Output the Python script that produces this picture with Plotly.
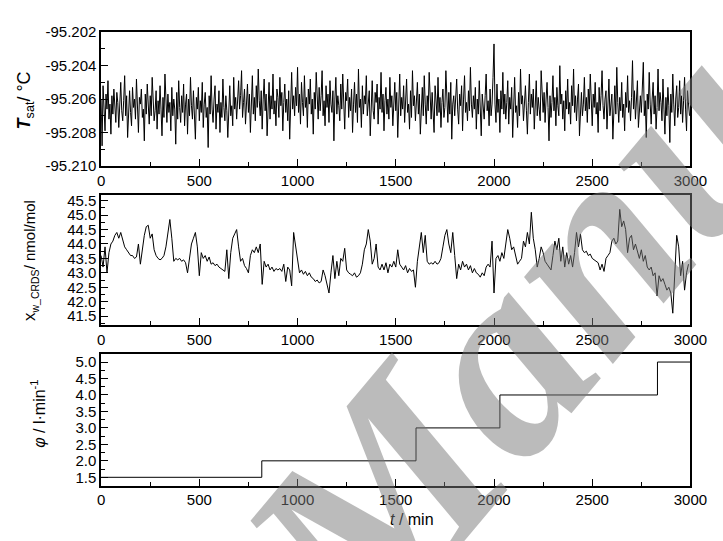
import plotly.graph_objects as go

# ---------------- data ----------------
t_sat_time = list(range(0, 3000, 5))
T_sat = [
    -95.2060, -95.2088, -95.2052, -95.2068, -95.2079, -95.2057, -95.2066, -95.2049, -95.2072, -95.2063,
    -95.2081, -95.2058, -95.2069, -95.2054, -95.2066, -95.2074, -95.2056, -95.2062, -95.2077, -95.2059,
    -95.2050, -95.2067, -95.2073, -95.2061, -95.2046, -95.2070, -95.2058, -95.2083, -95.2064, -95.2055,
    -95.2068, -95.2076, -95.2053, -95.2065, -95.2060, -95.2072, -95.2048, -95.2067, -95.2080, -95.2059,
    -95.2063, -95.2054, -95.2071, -95.2066, -95.2085, -95.2057, -95.2069, -95.2051, -95.2064, -95.2075,
    -95.2058, -95.2070, -95.2047, -95.2062, -95.2073, -95.2067, -95.2055, -95.2078, -95.2061, -95.2069,
    -95.2052, -95.2066, -95.2082, -95.2059, -95.2071, -95.2045, -95.2064, -95.2074, -95.2057, -95.2068,
    -95.2062, -95.2079, -95.2053, -95.2070, -95.2060, -95.2066, -95.2087, -95.2056, -95.2072, -95.2049,
    -95.2065, -95.2074, -95.2058, -95.2068, -95.2051, -95.2076, -95.2063, -95.2057, -95.2081, -95.2060,
    -95.2070, -95.2047, -95.2064, -95.2072, -95.2055, -95.2067, -95.2084, -95.2059, -95.2066, -95.2053,
    -95.2073, -95.2061, -95.2068, -95.2050, -95.2077, -95.2063, -95.2056, -95.2071, -95.2065, -95.2089,
    -95.2058, -95.2069, -95.2046, -95.2066, -95.2074, -95.2060, -95.2052, -95.2078, -95.2063, -95.2068,
    -95.2055, -95.2080, -95.2062, -95.2071, -95.2048, -95.2065, -95.2073, -95.2058, -95.2067, -95.2083,
    -95.2061, -95.2052, -95.2070, -95.2064, -95.2076, -95.2047, -95.2066, -95.2059, -95.2072, -95.2056,
    -95.2049, -95.2066, -95.2058, -95.2043, -95.2071, -95.2062, -95.2054, -95.2075, -95.2060, -95.2051,
    -95.2068, -95.2057, -95.2080, -95.2063, -95.2046, -95.2069, -95.2059, -95.2073, -95.2052, -95.2065,
    -95.2042, -95.2061, -95.2070, -95.2055, -95.2078, -95.2060, -95.2048, -95.2067, -95.2057, -95.2082,
    -95.2063, -95.2050, -95.2072, -95.2058, -95.2066, -95.2045, -95.2069, -95.2061, -95.2076, -95.2054,
    -95.2059, -95.2071, -95.2047, -95.2064, -95.2056, -95.2079, -95.2062, -95.2051, -95.2068, -95.2060,
    -95.2073, -95.2055, -95.2084, -95.2061, -95.2044, -95.2066, -95.2058, -95.2070, -95.2053, -95.2064,
    -95.2041, -95.2068, -95.2057, -95.2075, -95.2050, -95.2062, -95.2070, -95.2046, -95.2065, -95.2059,
    -95.2077, -95.2054, -95.2063, -95.2048, -95.2069, -95.2060, -95.2081, -95.2056, -95.2066, -95.2044,
    -95.2062, -95.2072, -95.2053, -95.2067, -95.2058, -95.2043, -95.2070, -95.2061, -95.2076, -95.2052,
    -95.2065, -95.2057, -95.2074, -95.2049, -95.2063, -95.2068, -95.2055, -95.2085, -95.2060, -95.2047,
    -95.2069, -95.2058, -95.2064, -95.2073, -95.2051, -95.2066, -95.2045, -95.2062, -95.2078, -95.2056,
    -95.2061, -95.2048, -95.2071, -95.2059, -95.2067, -95.2054, -95.2080, -95.2063, -95.2050, -95.2068,
    -95.2057, -95.2074, -95.2042, -95.2065, -95.2060, -95.2077, -95.2052, -95.2069, -95.2058, -95.2063,
    -95.2046, -95.2070, -95.2061, -95.2055, -95.2082, -95.2064, -95.2049, -95.2067, -95.2072, -95.2056,
    -95.2062, -95.2051, -95.2075, -95.2059, -95.2066, -95.2044, -95.2068, -95.2057, -95.2079, -95.2061,
    -95.2053, -95.2069, -95.2060, -95.2072, -95.2047, -95.2065, -95.2058, -95.2076, -95.2063, -95.2050,
    -95.2067, -95.2056, -95.2083, -95.2061, -95.2045, -95.2070, -95.2059, -95.2066, -95.2052, -95.2074,
    -95.2060, -95.2048, -95.2068, -95.2063, -95.2078, -95.2055, -95.2071, -95.2043, -95.2064, -95.2058,
    -95.2073, -95.2062, -95.2050, -95.2069, -95.2057, -95.2081, -95.2065, -95.2053, -95.2070, -95.2046,
    -95.2063, -95.2075, -95.2058, -95.2067, -95.2044, -95.2061, -95.2072, -95.2056, -95.2066, -95.2080,
    -95.2052, -95.2064, -95.2070, -95.2047, -95.2068, -95.2059, -95.2077, -95.2062, -95.2054, -95.2071,
    -95.2065, -95.2043, -95.2060, -95.2074, -95.2056, -95.2069, -95.2050, -95.2084, -95.2063, -95.2058,
    -95.2070, -95.2061, -95.2048, -95.2066, -95.2075, -95.2057, -95.2064, -95.2052, -95.2079, -95.2060,
    -95.2046, -95.2068, -95.2062, -95.2073, -95.2055, -95.2067, -95.2041, -95.2063, -95.2071, -95.2058,
    -95.2066, -95.2053, -95.2078, -95.2060, -95.2069, -95.2049, -95.2065, -95.2082, -95.2057, -95.2064,
    -95.2072, -95.2058, -95.2045, -95.2067, -95.2061, -95.2076, -95.2054, -95.2070, -95.2063, -95.2047,
    -95.2027, -95.2063, -95.2074, -95.2051, -95.2068, -95.2060, -95.2080, -95.2055, -95.2066, -95.2044,
    -95.2069, -95.2057, -95.2072, -95.2062, -95.2049, -95.2075, -95.2059, -95.2066, -95.2053, -95.2083,
    -95.2061, -95.2047, -95.2068, -95.2064, -95.2077, -95.2056, -95.2070, -95.2042, -95.2063, -95.2058,
    -95.2073, -95.2060, -95.2052, -95.2067, -95.2081, -95.2062, -95.2045, -95.2069, -95.2057, -95.2065,
    -95.2054, -95.2078, -95.2063, -95.2049, -95.2070, -95.2059, -95.2066, -95.2073, -95.2043, -95.2061,
    -95.2068, -95.2056, -95.2074, -95.2060, -95.2050, -95.2065, -95.2085, -95.2058, -95.2071, -95.2062,
    -95.2046, -95.2067, -95.2059, -95.2076, -95.2053, -95.2064, -95.2070, -95.2040, -95.2063, -95.2057,
    -95.2072, -95.2061, -95.2079, -95.2055, -95.2066, -95.2048, -95.2069, -95.2062, -95.2075, -95.2052,
    -95.2064, -95.2042, -95.2068, -95.2058, -95.2073, -95.2060, -95.2051, -95.2082, -95.2065, -95.2056,
    -95.2070, -95.2063, -95.2047, -95.2067, -95.2059, -95.2074, -95.2054, -95.2066, -95.2045, -95.2061,
    -95.2076, -95.2057, -95.2065, -95.2050, -95.2069, -95.2062, -95.2080, -95.2053, -95.2067, -95.2058,
    -95.2043, -95.2064, -95.2072, -95.2060, -95.2055, -95.2078, -95.2061, -95.2048, -95.2070, -95.2063,
    -95.2057, -95.2084, -95.2066, -95.2052, -95.2069, -95.2041, -95.2062, -95.2074, -95.2059, -95.2067,
    -95.2050, -95.2071, -95.2063, -95.2079, -95.2056, -95.2065, -95.2046, -95.2068, -95.2061, -95.2073,
    -95.2059, -95.2037, -95.2066, -95.2055, -95.2072, -95.2062, -95.2049, -95.2077, -95.2064, -95.2058,
    -95.2068, -95.2052, -95.2038, -95.2070, -95.2061, -95.2083, -95.2057, -95.2066, -95.2044, -95.2063,
    -95.2075, -95.2060, -95.2050, -95.2069, -95.2058, -95.2078, -95.2065, -95.2042, -95.2067, -95.2056,
    -95.2062, -95.2073, -95.2048, -95.2066, -95.2081, -95.2059, -95.2070, -95.2053, -95.2064, -95.2086,
    -95.2057, -95.2068, -95.2045, -95.2063, -95.2076, -95.2060, -95.2052, -95.2071, -95.2065, -95.2049,
    -95.2069, -95.2058, -95.2074, -95.2061, -95.2047, -95.2066, -95.2079, -95.2055, -95.2063, -95.2070,
]

xw_time = list(range(0, 3000, 10))
xw_CRDS = [
    43.6, 43.2, 43.9, 43.0, 43.7, 44.0, 44.1, 44.3, 44.4, 44.2,
    44.4, 44.1, 43.9, 43.8, 43.7, 43.6, 43.6, 43.5, 43.55, 44.0,
    43.3, 43.9, 44.3, 44.6, 44.65, 44.2, 44.35, 43.8, 43.6, 43.5,
    43.45, 43.5, 43.6, 43.9, 44.3, 44.85, 44.2, 43.4, 43.5, 43.45,
    43.5, 43.4, 43.45, 43.35, 43.0, 43.6, 44.0, 44.2, 44.4, 43.9,
    42.9, 43.7, 43.5, 43.6, 43.4, 43.55, 43.3, 43.35, 43.25, 43.3,
    43.2, 43.15, 43.1, 43.05, 43.8, 42.8, 43.7, 44.2, 44.35, 44.5,
    43.9, 43.4, 43.5, 43.25, 43.15, 43.0, 43.6, 43.8, 43.7, 43.9,
    43.7, 44.0, 42.6, 43.4, 43.2, 43.3, 43.1, 43.2, 43.05, 43.15,
    43.1, 43.15, 43.05, 43.3, 42.7, 43.2, 43.1, 42.55, 44.4, 43.9,
    43.4, 43.0, 43.1, 42.95, 43.05, 42.9, 43.0, 42.85, 42.8, 42.7,
    42.75, 42.65, 42.7, 43.1, 42.9, 42.6, 42.3, 43.0, 43.6, 42.8,
    43.4, 42.9, 43.5, 43.4, 43.85, 43.1, 43.0, 42.95, 42.9, 43.0,
    42.85, 42.9, 43.0, 43.3, 43.8, 44.0, 44.5, 44.1, 43.3, 43.5,
    44.0, 43.2, 43.1, 43.3, 43.1, 43.35, 43.0, 43.3, 43.2, 43.4,
    43.2, 43.8, 43.3, 43.2, 43.1, 43.25, 43.0, 43.15, 43.05, 43.1,
    42.5, 43.4, 44.0, 44.4, 43.7, 44.3, 43.4, 43.3, 43.35, 43.3,
    43.4, 43.3, 43.35, 43.5, 43.9, 44.3, 44.5, 44.0, 43.7, 44.4,
    43.6, 42.8, 43.3, 43.1, 43.4, 43.2, 43.3, 43.1, 43.25, 43.0,
    43.15, 43.0, 42.95, 42.85, 43.0, 42.9, 43.2, 43.3, 43.2, 44.1,
    42.3, 43.5, 43.6, 43.4, 43.7, 43.5, 44.0, 44.5, 44.2, 43.8,
    43.9, 43.6, 43.3, 43.4, 43.5, 44.1, 43.9, 44.4, 44.0, 45.1,
    44.2, 43.8, 43.2, 43.5, 43.9, 43.7, 43.4, 43.3, 43.2, 43.1,
    43.6, 44.1, 43.8, 44.2, 43.4, 43.9, 43.2, 43.7, 43.3, 43.6,
    43.2, 43.7, 44.4, 43.9, 44.35, 43.8, 43.7, 43.75, 43.6, 43.65,
    43.5, 43.45, 43.4, 43.35, 43.1, 43.3, 43.05, 43.5, 43.6, 43.7,
    44.1, 44.2, 44.0, 44.1, 45.2, 44.6, 44.8, 44.5, 43.7, 44.2,
    44.3, 43.8, 44.0, 43.7, 43.5, 43.8, 43.4, 43.6, 43.2, 43.1,
    43.2, 42.9, 43.0, 42.2, 42.9, 42.7, 42.8, 42.6, 42.4, 42.5,
    42.3, 41.6, 43.1, 44.3, 43.9, 42.9, 43.4, 42.4, 43.0, 43.3,
]

flow_time = [0, 818, 1603, 2030, 2832, 3000]
flow = [1.5, 2.0, 3.0, 4.0, 5.0, 5.0]

x_ticks = [0, 500, 1000, 1500, 2000, 2500, 3000]
T_ticks = [-95.210, -95.208, -95.206, -95.204, -95.202]
T_ticklabels = ["-95.210", "-95.208", "-95.206", "-95.204", "-95.202"]
xw_ticks = [41.5, 42.0, 42.5, 43.0, 43.5, 44.0, 44.5, 45.0, 45.5]
flow_ticks = [1.5, 2.0, 2.5, 3.0, 3.5, 4.0, 4.5, 5.0]

# ---------------- figure ----------------
W, H = 723, 541
FONT = "Arial, Liberation Sans, sans-serif"

fig = go.Figure()
fig.add_trace(go.Scatter(x=t_sat_time, y=T_sat, mode="lines",
                         line=dict(color="black", width=1), xaxis="x", yaxis="y"))
fig.add_trace(go.Scatter(x=xw_time, y=xw_CRDS, mode="lines",
                         line=dict(color="black", width=1), xaxis="x2", yaxis="y2"))
fig.add_trace(go.Scatter(x=flow_time, y=flow, mode="lines", line_shape="hv",
                         line=dict(color="black", width=1), xaxis="x3", yaxis="y3"))

xdom = [100 / W, 707 / W]


def ydom(top_px, bot_px):
    return [1 - bot_px / H, 1 - top_px / H]


common = dict(showline=True, mirror=True, linecolor="black", linewidth=1.5,
              ticks="inside", ticklen=7, tickwidth=1.3, tickcolor="black",
              showgrid=False, zeroline=False, ticklabeloverflow="allow",
              tickfont=dict(family=FONT, size=15, color="black"))


def xax(anchor):
    return dict(common, domain=xdom, anchor=anchor, range=[0, 3000],
                tickvals=x_ticks, ticktext=[str(v) for v in x_ticks],
                minor=dict(dtick=250, tick0=0, ticks="inside", ticklen=4,
                           tickwidth=1.3, tickcolor="black"))


fig.update_layout(
    width=W, height=H, margin=dict(l=0, r=0, t=0, b=0),
    paper_bgcolor="white", plot_bgcolor="white", showlegend=False,
    xaxis=xax("y"),
    xaxis2=xax("y2"),
    xaxis3=xax("y3"),
    yaxis=dict(common, domain=ydom(24, 162), anchor="x", range=[-95.210, -95.202],
               tickvals=T_ticks, ticktext=T_ticklabels,
               minor=dict(dtick=0.001, tick0=-95.210, ticks="inside", ticklen=4,
                          tickwidth=1.3, tickcolor="black")),
    yaxis2=dict(common, domain=ydom(192, 326), anchor="x2", range=[41.2, 45.7],
                tickvals=xw_ticks, ticktext=[f"{v:.1f}" for v in xw_ticks],
                minor=dict(dtick=0.25, tick0=41.5, ticks="inside", ticklen=4,
                           tickwidth=1.3, tickcolor="black")),
    yaxis3=dict(common, domain=ydom(356, 492), anchor="x3", range=[1.25, 5.25],
                tickvals=flow_ticks, ticktext=[f"{v:.1f}" for v in flow_ticks],
                minor=dict(dtick=0.25, tick0=1.25, ticks="inside", ticklen=4,
                           tickwidth=1.3, tickcolor="black")),
)


def label(text, x, y, size, angle=0):
    fig.add_annotation(text=text, x=x / W, y=1 - y / H, xref="paper", yref="paper",
                       xanchor="center", yanchor="middle", showarrow=False,
                       textangle=angle, font=dict(family=FONT, size=size, color="black"))


# axis titles
label("<b><i>T</i></b><sub>sat</sub>/ °C", 22, 94, 18, -90)
label("<span style='font-size:17px'>x</span><sub>w_CRDS</sub>/ nmol/mol", 27, 260, 15, -90)
label("<i>φ</i> / l·min<sup>-1</sup>", 35, 418, 16, -90)
label("<i>t</i> / min", 420, 527, 16)

# watermark
fig.add_annotation(text="<b><i>Manuscript</i></b>", x=732 / W, y=1 - 95 / H,
                   xref="paper", yref="paper", xanchor="center", yanchor="middle",
                   showarrow=False, textangle=-50,
                   font=dict(family="Liberation Serif", size=270,
                             color="rgba(120,120,120,0.5)"))

fig.write_html("out.html")
